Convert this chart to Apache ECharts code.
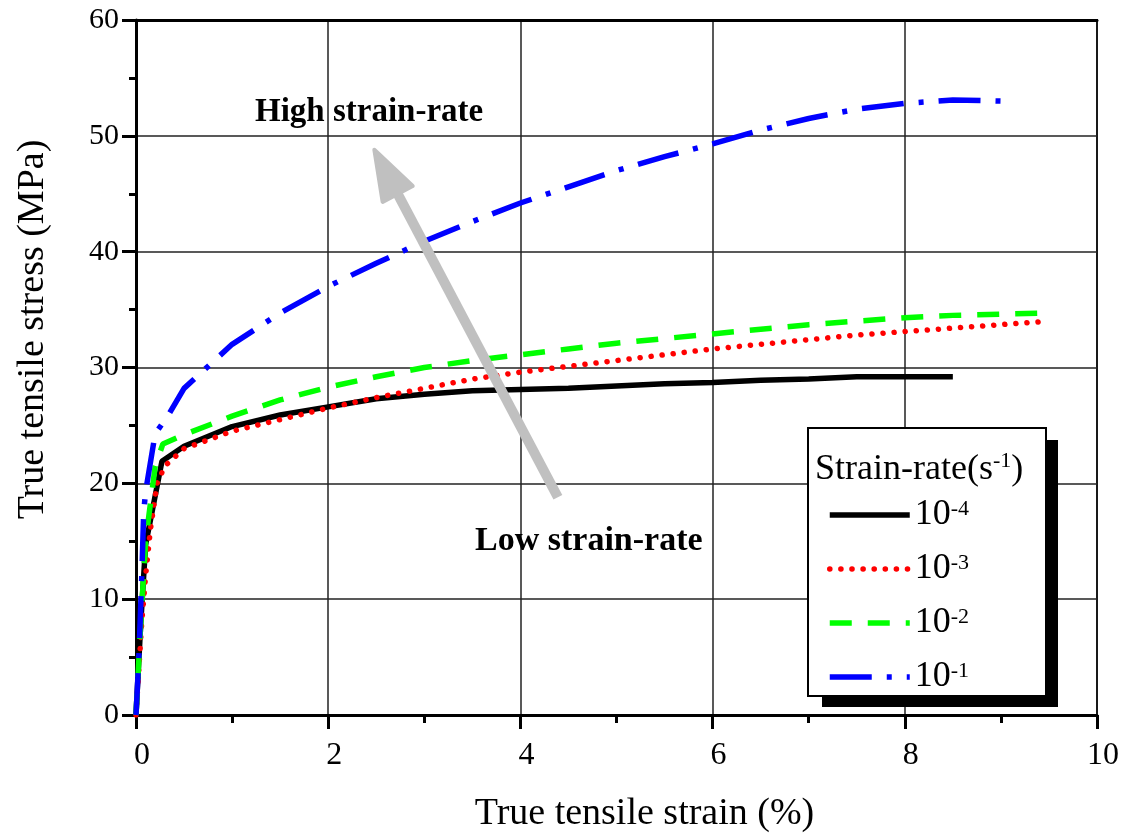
<!DOCTYPE html>
<html>
<head>
<meta charset="utf-8">
<script src="https://cdn.jsdelivr.net/npm/echarts@6/dist/echarts.min.js"></script>
<style>
  html, body { margin: 0; padding: 0; background: #fff; }
  #main { width: 1129px; height: 838px; }
</style>
</head>
<body>
<div id="main"></div>
<script>
// strain (%) / stress (MPa) pairs
var rate4 = [[0,0],[0.05,8],[0.1,14.7],[0.27,21.9],[0.5,23.2],[1,24.9],[1.5,25.9],[2,26.6],[2.5,27.3],[3,27.7],[3.5,28.0],[4,28.1],[4.5,28.2],[5,28.4],[5.5,28.6],[6,28.7],[6.5,28.9],[7,29.0],[7.5,29.2],[8,29.2],[8.5,29.2]];
var rate3 = [[0,0],[0.03,4],[0.06,8],[0.1,12],[0.15,16],[0.22,20],[0.3,21.5],[0.5,23],[1,24.5],[1.5,25.5],[2,26.5],[2.5,27.4],[3,28.2],[3.5,29.0],[4,29.6],[4.5,30.1],[5,30.6],[5.5,31.1],[6,31.6],[6.5,32.0],[7,32.4],[7.5,32.8],[8,33.1],[8.5,33.4],[9,33.7],[9.5,34.0]];
var rate2 = [[0,0],[0.05,8],[0.1,15],[0.2,21.5],[0.28,23.4],[0.5,24.2],[1,25.8],[1.5,27.2],[2,28.3],[2.5,29.2],[3,30.0],[3.5,30.6],[4,31.1],[4.5,31.6],[5,32.1],[5.5,32.5],[6,32.9],[6.5,33.3],[7,33.7],[7.5,34.0],[8,34.3],[8.5,34.5],[9,34.6],[9.5,34.7]];
var rate1 = [[0,0],[0.03,5],[0.06,12],[0.08,17.5],[0.1,19.3],[0.2,24.3],[0.33,25.8],[0.5,28.2],[1,32.0],[1.5,34.7],[2,37.0],[2.5,39.0],[3,40.9],[3.5,42.6],[4,44.2],[4.5,45.6],[5,47.0],[5.5,48.2],[6,49.3],[6.5,50.5],[7,51.5],[7.5,52.3],[8,52.8],[8.5,53.1],[9,53.0]];

var seriesNames = ['10-4', '10-3', '10-2', '10-1'];
var arrowTail = [4.39, 18.8];
var arrowTip = [2.48, 48.8];

var serif = '"Liberation Serif", "Times New Roman", serif';
var chart = echarts.init(document.getElementById('main'));

function curve(name, data, color, dash, cap) {
    return {
        name: name,
        type: 'line',
        data: data,
        symbol: 'none',
        z: 3,
        itemStyle: { color: color },
        lineStyle: { color: color, width: 5.5, type: dash, cap: cap }
    };
}

var option = {
    animation: false,
    backgroundColor: '#fff',
    grid: { left: 136, right: 32, top: 20, bottom: 121, show: true, borderColor: '#000', borderWidth: 2 },
    xAxis: [{
        type: 'value', min: 0, max: 10, interval: 2,
        name: 'True tensile strain (%)', nameLocation: 'middle', nameGap: 80,
        nameTextStyle: { fontFamily: serif, fontSize: 38, color: '#000', padding: [0, 0, 0, 56] },
        axisLine: { lineStyle: { color: '#000', width: 3 } },
        axisTick: { length: 14, lineStyle: { color: '#000', width: 3 } },
        minorTick: { show: true, splitNumber: 2, length: 8, lineStyle: { color: '#000', width: 3 } },
        axisLabel: { fontFamily: serif, fontSize: 32, color: '#000', margin: 25, padding: [0, 0, 0, 12] },
        splitLine: { lineStyle: { color: '#222', width: 1.5 } }
    }, {
        type: 'value', min: 0, max: 10, position: 'top',
        axisLine: { show: true, lineStyle: { color: '#000', width: 3 } },
        axisTick: { show: false }, axisLabel: { show: false }, splitLine: { show: false }
    }],
    yAxis: {
        type: 'value', min: 0, max: 60, interval: 10,
        name: 'True tensile stress (MPa)', nameLocation: 'middle', nameGap: 84,
        nameTextStyle: { fontFamily: serif, fontSize: 38, color: '#000', padding: [0, 0, 0, 76] },
        axisLine: { show: true, lineStyle: { color: '#000', width: 3 } },
        axisTick: { length: 14, lineStyle: { color: '#000', width: 3 } },
        minorTick: { show: true, splitNumber: 2, length: 7, lineStyle: { color: '#000', width: 3 } },
        axisLabel: { fontFamily: serif, fontSize: 30, color: '#000', margin: 17 },
        splitLine: { lineStyle: { color: '#222', width: 1.5 } }
    },
    legend: {
        orient: 'vertical', left: 822, top: 492, z: 20,
        itemWidth: 80, itemHeight: 34, itemGap: 18,
        data: seriesNames,
        itemStyle: { opacity: 0 },
        lineStyle: { width: 5.5 },
        formatter: function (name) { return '{b|10}{s|' + name.slice(2) + '}'; },
        textStyle: {
            rich: {
                b: { fontFamily: serif, fontSize: 36, color: '#000', lineHeight: 34 },
                s: { fontFamily: serif, fontSize: 22, color: '#000', verticalAlign: 'top', lineHeight: 30 }
            }
        }
    },
    graphic: [
        { type: 'rect', id: 'shadow', z: 15, shape: { x: 822, y: 440, width: 236, height: 267 }, style: { fill: '#000' } },
        { type: 'rect', id: 'box', z: 16, shape: { x: 808, y: 428, width: 238, height: 268 }, style: { fill: '#fff', stroke: '#000', lineWidth: 2 } },
        { type: 'text', id: 'ltitle', z: 17, left: 815, top: 450,
          style: { text: '{a|Strain-rate(s}{s|-1}{a|)}', rich: {
              a: { fontFamily: serif, fontSize: 36, fill: '#000', lineHeight: 40 },
              s: { fontFamily: serif, fontSize: 22, fill: '#000', verticalAlign: 'top', lineHeight: 34 } } } },
        { type: 'text', id: 'high', z: 12, left: 255, top: 96,
          style: { text: 'High strain-rate', fontFamily: serif, fontWeight: 'bold', fontSize: 33, fill: '#000' } },
        { type: 'text', id: 'low', z: 12, left: 475, top: 524,
          style: { text: 'Low strain-rate', fontFamily: serif, fontWeight: 'bold', fontSize: 34, fill: '#000' } }
    ],
    series: [
        curve('10-4', rate4, '#000000', 'solid', 'butt'),
        curve('10-3', rate3, '#ff0000', [0.1, 11], 'round'),
        curve('10-2', rate2, '#00ff00', [22, 16], 'butt'),
        curve('10-1', rate1, '#0000ff', [42, 15, 5, 15], 'butt')
    ]
};
chart.setOption(option);

// grey arrow from low to high strain-rate, placed in data coordinates
var p0 = chart.convertToPixel({ gridIndex: 0 }, arrowTail);
var p1 = chart.convertToPixel({ gridIndex: 0 }, arrowTip);
var dx = p1[0] - p0[0], dy = p1[1] - p0[1];
var len = Math.sqrt(dx * dx + dy * dy);
var ux = dx / len, uy = dy / len, nx = -uy, ny = ux;
var headLen = 50, headHalf = 17;
var base = [p1[0] - ux * headLen, p1[1] - uy * headLen];
chart.setOption({
    graphic: [
        { type: 'line', id: 'shaft', z: 11, shape: { x1: p0[0], y1: p0[1], x2: base[0] + ux * 4, y2: base[1] + uy * 4 },
          style: { stroke: '#c0c0c0', lineWidth: 10 } },
        { type: 'polygon', id: 'head', z: 11,
          shape: { points: [p1, [base[0] + nx * headHalf, base[1] + ny * headHalf], [base[0] - nx * headHalf, base[1] - ny * headHalf]] },
          style: { fill: '#c0c0c0', stroke: '#c0c0c0', lineWidth: 4, lineJoin: 'round' } }
    ]
});
</script>
</body>
</html>
